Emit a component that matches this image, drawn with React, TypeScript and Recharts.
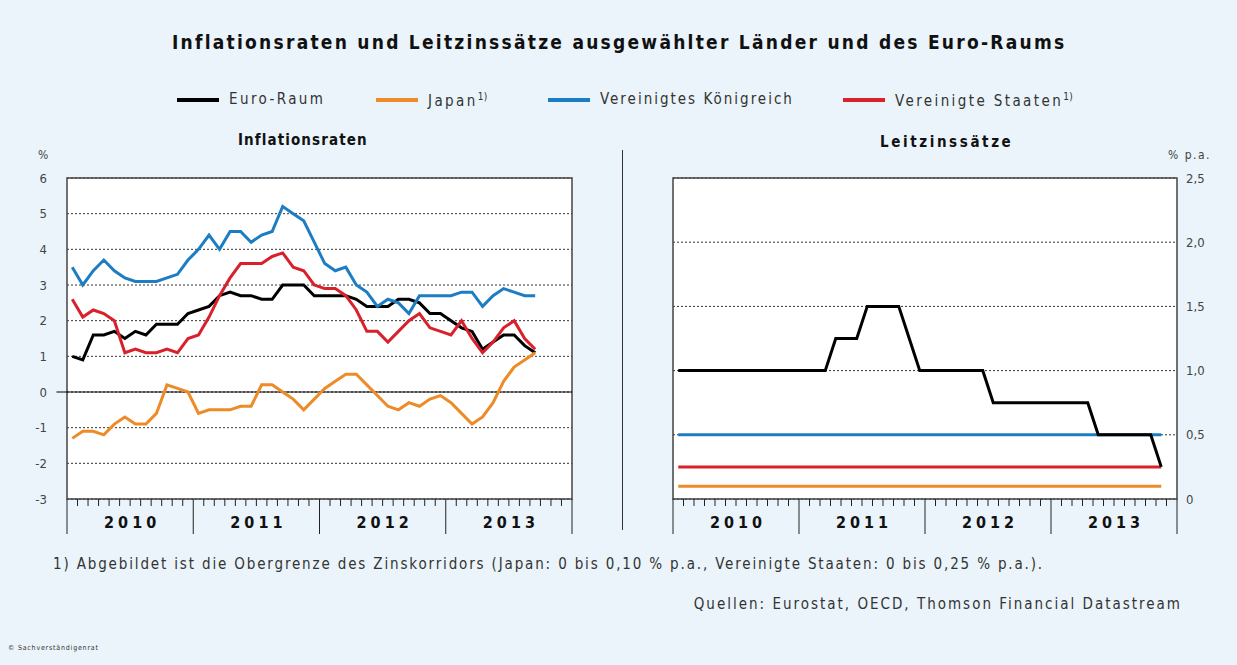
import {
  CartesianGrid,
  Line,
  LineChart,
  ReferenceArea,
  ReferenceLine,
  XAxis,
  YAxis,
} from "recharts";

const FONT = "'Liberation Sans Narrow', 'Arial Narrow', 'DejaVu Sans Condensed', sans-serif";

const YEARS = ["2010", "2011", "2012", "2013"];

// Inflationsraten, monthly Jan 2010 - Sep 2013 (% ggü. Vorjahr)
const euroInflation = [
  1.0, 0.9, 1.6, 1.6, 1.7, 1.5, 1.7, 1.6, 1.9, 1.9, 1.9, 2.2,
  2.3, 2.4, 2.7, 2.8, 2.7, 2.7, 2.6, 2.6, 3.0, 3.0, 3.0, 2.7,
  2.7, 2.7, 2.7, 2.6, 2.4, 2.4, 2.4, 2.6, 2.6, 2.5, 2.2, 2.2,
  2.0, 1.8, 1.7, 1.2, 1.4, 1.6, 1.6, 1.3, 1.1,
];
const japanInflation = [
  -1.3, -1.1, -1.1, -1.2, -0.9, -0.7, -0.9, -0.9, -0.6, 0.2, 0.1, 0.0,
  -0.6, -0.5, -0.5, -0.5, -0.4, -0.4, 0.2, 0.2, 0.0, -0.2, -0.5, -0.2,
  0.1, 0.3, 0.5, 0.5, 0.2, -0.1, -0.4, -0.5, -0.3, -0.4, -0.2, -0.1,
  -0.3, -0.6, -0.9, -0.7, -0.3, 0.3, 0.7, 0.9, 1.1,
];
const ukInflation = [
  3.5, 3.0, 3.4, 3.7, 3.4, 3.2, 3.1, 3.1, 3.1, 3.2, 3.3, 3.7,
  4.0, 4.4, 4.0, 4.5, 4.5, 4.2, 4.4, 4.5, 5.2, 5.0, 4.8, 4.2,
  3.6, 3.4, 3.5, 3.0, 2.8, 2.4, 2.6, 2.5, 2.2, 2.7, 2.7, 2.7,
  2.7, 2.8, 2.8, 2.4, 2.7, 2.9, 2.8, 2.7, 2.7,
];
const usInflation = [
  2.6, 2.1, 2.3, 2.2, 2.0, 1.1, 1.2, 1.1, 1.1, 1.2, 1.1, 1.5,
  1.6, 2.1, 2.7, 3.2, 3.6, 3.6, 3.6, 3.8, 3.9, 3.5, 3.4, 3.0,
  2.9, 2.9, 2.7, 2.3, 1.7, 1.7, 1.4, 1.7, 2.0, 2.2, 1.8, 1.7,
  1.6, 2.0, 1.5, 1.1, 1.4, 1.8, 2.0, 1.5, 1.2,
];

// Leitzinssätze, monthly Jan 2010 - Nov 2013 (% p.a.)
const euroRate = [
  1.0, 1.0, 1.0, 1.0, 1.0, 1.0, 1.0, 1.0, 1.0, 1.0, 1.0, 1.0,
  1.0, 1.0, 1.0, 1.25, 1.25, 1.25, 1.5, 1.5, 1.5, 1.5, 1.25, 1.0,
  1.0, 1.0, 1.0, 1.0, 1.0, 1.0, 0.75, 0.75, 0.75, 0.75, 0.75, 0.75,
  0.75, 0.75, 0.75, 0.75, 0.5, 0.5, 0.5, 0.5, 0.5, 0.5, 0.25,
];
const japanRate = [
  0.1, 0.1, 0.1, 0.1, 0.1, 0.1, 0.1, 0.1, 0.1, 0.1, 0.1, 0.1,
  0.1, 0.1, 0.1, 0.1, 0.1, 0.1, 0.1, 0.1, 0.1, 0.1, 0.1, 0.1,
  0.1, 0.1, 0.1, 0.1, 0.1, 0.1, 0.1, 0.1, 0.1, 0.1, 0.1, 0.1,
  0.1, 0.1, 0.1, 0.1, 0.1, 0.1, 0.1, 0.1, 0.1, 0.1, 0.1,
];
const ukRate = [
  0.5, 0.5, 0.5, 0.5, 0.5, 0.5, 0.5, 0.5, 0.5, 0.5, 0.5, 0.5,
  0.5, 0.5, 0.5, 0.5, 0.5, 0.5, 0.5, 0.5, 0.5, 0.5, 0.5, 0.5,
  0.5, 0.5, 0.5, 0.5, 0.5, 0.5, 0.5, 0.5, 0.5, 0.5, 0.5, 0.5,
  0.5, 0.5, 0.5, 0.5, 0.5, 0.5, 0.5, 0.5, 0.5, 0.5, 0.5,
];
const usRate = [
  0.25, 0.25, 0.25, 0.25, 0.25, 0.25, 0.25, 0.25, 0.25, 0.25, 0.25, 0.25,
  0.25, 0.25, 0.25, 0.25, 0.25, 0.25, 0.25, 0.25, 0.25, 0.25, 0.25, 0.25,
  0.25, 0.25, 0.25, 0.25, 0.25, 0.25, 0.25, 0.25, 0.25, 0.25, 0.25, 0.25,
  0.25, 0.25, 0.25, 0.25, 0.25, 0.25, 0.25, 0.25, 0.25, 0.25, 0.25,
];

const INFL_TICKS = [-3, -2, -1, 0, 1, 2, 3, 4, 5, 6];
const RATE_TICKS = [0, 0.5, 1, 1.5, 2, 2.5];

const COLORS = {
  euro: "#000000",
  japan: "#ec8b27",
  uk: "#1c7dc2",
  us: "#d9212b",
};

const SERIES = [
  { key: "euro", label: "Euro-Raum", note: false },
  { key: "japan", label: "Japan", note: true },
  { key: "uk", label: "Vereinigtes Königreich", note: false },
  { key: "us", label: "Vereinigte Staaten", note: true },
] as const;

// month boundaries, one tick per month over four years
const MONTH_TICKS = Array.from({ length: YEARS.length * 12 + 1 }, (_, i) => i);

const inflationRows = euroInflation.map((v, i) => ({
  m: i + 0.5,
  euro: v,
  japan: japanInflation[i],
  uk: ukInflation[i],
  us: usInflation[i],
}));

const rateRows = euroRate.map((v, i) => ({
  m: i + 0.5,
  euro: v,
  japan: japanRate[i],
  uk: ukRate[i],
  us: usRate[i],
}));

function MonthTick({ x, y, payload }: any) {
  const v = payload.value as number;
  const yearStart = v % 12 === 0;
  return (
    <g>
      <line x1={x} x2={x} y1={y} y2={y + (yearStart ? 35 : 7)} stroke="#222" strokeWidth={1} />
      {v % 12 === 6 && (
        <text
          x={x + 2}
          y={y + 29}
          textAnchor="middle"
          fontFamily={FONT}
          fontWeight="bold"
          fontSize={16}
          letterSpacing={4}
          fill="#111"
        >
          {YEARS[Math.floor(v / 12)]}
        </text>
      )}
    </g>
  );
}

const axisTick = { fontFamily: FONT, fontSize: 13, fill: "#444" };

function InflationChart() {
  return (
    <LineChart
      width={600}
      height={540}
      data={inflationRows}
      margin={{ top: 178, right: 28, bottom: 0, left: 37 }}
    >
      <CartesianGrid vertical={false} fill="#fff" stroke="#333" strokeDasharray="2 2" />
      <XAxis
        dataKey="m"
        type="number"
        domain={[0, 48]}
        ticks={MONTH_TICKS}
        interval={0}
        height={41}
        axisLine={false}
        tickLine={false}
        tickSize={0}
        tickMargin={0}
        tick={<MonthTick />}
      />
      <YAxis
        domain={[-3, 6]}
        ticks={INFL_TICKS}
        width={30}
        axisLine={false}
        tickLine={false}
        tickSize={0}
        tickMargin={20}
        tick={axisTick}
      />
      <ReferenceLine
        segment={[{ x: -1, y: 0 }, { x: 48, y: 0 }]}
        ifOverflow="visible"
        stroke="#000"
        strokeWidth={1}
      />
      <ReferenceArea x1={0} x2={48} y1={-3} y2={6} fill="none" stroke="#444" strokeWidth={1.5} />
      {SERIES.map((s) => (
        <Line
          key={s.key}
          dataKey={s.key}
          stroke={COLORS[s.key]}
          strokeWidth={3}
          dot={false}
          isAnimationActive={false}
        />
      ))}
    </LineChart>
  );
}

function RateChart() {
  return (
    <LineChart
      width={617}
      height={540}
      data={rateRows}
      margin={{ top: 178, right: 20, bottom: 0, left: 53 }}
    >
      <CartesianGrid vertical={false} fill="#fff" stroke="#333" strokeDasharray="2 2" />
      <XAxis
        dataKey="m"
        type="number"
        domain={[0, 48]}
        ticks={MONTH_TICKS}
        interval={0}
        height={41}
        axisLine={false}
        tickLine={false}
        tickSize={0}
        tickMargin={0}
        tick={<MonthTick />}
      />
      <YAxis
        orientation="right"
        domain={[0, 2.5]}
        ticks={RATE_TICKS}
        width={40}
        axisLine={false}
        tickLine={false}
        tickSize={0}
        tickMargin={9}
        tick={axisTick}
        tickFormatter={(v: number) => (v === 0 ? "0" : v.toFixed(1).replace(".", ","))}
      />
      <ReferenceArea x1={0} x2={48} y1={0} y2={2.5} fill="none" stroke="#444" strokeWidth={1.5} />
      {[...SERIES].reverse().map((s) => (
        <Line
          key={s.key}
          dataKey={s.key}
          stroke={COLORS[s.key]}
          strokeWidth={3}
          dot={false}
          isAnimationActive={false}
        />
      ))}
    </LineChart>
  );
}

const LEGEND_X = [177, 376, 548, 843];
const LEGEND_SPACING = [2.4, 2.4, 2.0, 2.4];

function Text({ x, y, size, bold, spacing, color, children, right }: any) {
  return (
    <div
      style={{
        position: "absolute",
        left: right ? undefined : x,
        right: right,
        top: y,
        fontFamily: FONT,
        fontSize: size,
        fontWeight: bold ? "bold" : "normal",
        letterSpacing: spacing,
        color: color ?? "#333",
        whiteSpace: "nowrap",
        lineHeight: 1,
      }}
    >
      {children}
    </div>
  );
}

export default function App() {
  return (
    <div
      style={{
        position: "absolute",
        left: 0,
        top: 0,
        width: 1237,
        height: 665,
        background: "#eaf4fa",
        overflow: "hidden",
      }}
    >
      <Text x={172} y={33} size={19} bold spacing={2.25} color="#111">
        Inflationsraten und Leitzinssätze ausgewählter Länder und des Euro-Raums
      </Text>

      {SERIES.map((s, i) => (
        <div key={s.key}>
          <div
            style={{
              position: "absolute",
              left: LEGEND_X[i],
              top: 98,
              width: 42,
              height: 4,
              background: COLORS[s.key],
            }}
          />
          <Text x={LEGEND_X[i] + 52} y={92} size={15} spacing={LEGEND_SPACING[i]} color="#333">
            {s.label}
            {s.note && <sup style={{ fontSize: 10, letterSpacing: 0.5 }}>1)</sup>}
          </Text>
        </div>
      ))}

      <Text x={238} y={133} size={15} bold spacing={1.1} color="#111">
        Inflationsraten
      </Text>
      <Text x={880} y={135} size={15} bold spacing={2.6} color="#111">
        Leitzinssätze
      </Text>
      <Text x={38} y={149} size={12} color="#444">
        %
      </Text>
      <Text x={1168} y={149} size={12} spacing={1.5} color="#444">
        % p.a.
      </Text>

      <div
        style={{
          position: "absolute",
          left: 622,
          top: 150,
          width: 1,
          height: 380,
          background: "#333",
        }}
      />

      <div style={{ position: "absolute", left: 0, top: 0 }}>
        <InflationChart />
      </div>
      <div style={{ position: "absolute", left: 620, top: 0 }}>
        <RateChart />
      </div>

      <Text x={53} y={557} size={15} spacing={1.85} color="#333">
        1) Abgebildet ist die Obergrenze des Zinskorridors (Japan: 0 bis 0,10 % p.a., Vereinigte Staaten: 0 bis 0,25 % p.a.).
      </Text>
      <Text right={55} y={597} size={15} spacing={2.0} color="#333">
        Quellen: Eurostat, OECD, Thomson Financial Datastream
      </Text>
      <Text x={8} y={645} size={7} spacing={0.8} color="#333">
        © Sachverständigenrat
      </Text>
    </div>
  );
}
